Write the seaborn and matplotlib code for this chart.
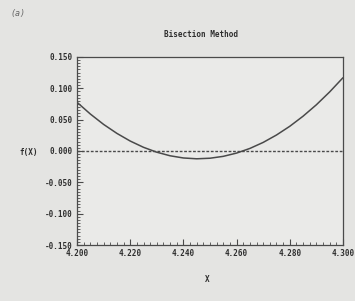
import numpy as np
import pandas as pd
import matplotlib
matplotlib.use("Agg")
import matplotlib.pyplot as plt
import seaborn as sns
from matplotlib.ticker import MultipleLocator

# values
x_vals = [4.200, 4.205, 4.210, 4.215, 4.220, 4.225, 4.230, 4.235, 4.240, 4.245, 4.250,
          4.255, 4.260, 4.265, 4.270, 4.275, 4.280, 4.285, 4.290, 4.295, 4.300]
fx_vals = [0.0776, 0.0589, 0.0423, 0.0280, 0.0158, 0.0058, -0.0020, -0.0077, -0.0112, -0.0125, -0.0116,
           -0.0086, -0.0034, 0.0040, 0.0136, 0.0254, 0.0393, 0.0554, 0.0736, 0.0941, 0.1167]
x_ticks = [4.200, 4.220, 4.240, 4.260, 4.280, 4.300]
y_ticks = [-0.150, -0.100, -0.050, 0.000, 0.050, 0.100, 0.150]

df = pd.DataFrame({'X': x_vals, 'fX': fx_vals})

sns.set_style('white')
plt.rcParams['font.family'] = ['DejaVu Sans Mono', 'DejaVu Sans']
paper = '#e4e4e2'
ink = '#4a4a4a'

fig = plt.figure(figsize=(3.55, 3.01), dpi=100, facecolor=paper)
ax = fig.add_axes([0.217, 0.186, 0.749, 0.625])
ax.set_facecolor('#eaeae8')

sns.lineplot(data=df, x='X', y='fX', ax=ax, color=ink, linewidth=1.1)
ax.axhline(0, color=ink, linestyle=(0, (2, 1.2)), linewidth=1.0)

ax.set_xlim(4.2, 4.3)
ax.set_ylim(-0.15, 0.15)
ax.set_xticks(x_ticks)
ax.set_xticklabels([f'{t:.3f}' for t in x_ticks])
ax.set_yticks(y_ticks)
ax.set_yticklabels([f'{t:.3f}' for t in y_ticks])
ax.xaxis.set_minor_locator(MultipleLocator(0.0025))
ax.yaxis.set_minor_locator(MultipleLocator(0.005))
ax.tick_params(which='major', direction='in', length=4, width=0.8, color=ink,
               labelsize=5.5, labelcolor='#2e2e2e', pad=3)
ax.tick_params(which='minor', direction='in', length=2, width=0.6, color=ink)
ax.tick_params(axis='x', which='both', top=False, bottom=True)
ax.tick_params(axis='y', which='both', left=True, right=False)
for lbl in ax.get_xticklabels() + ax.get_yticklabels():
    lbl.set_fontweight('bold')
for s in ax.spines.values():
    s.set_color(ink)
    s.set_linewidth(0.9)

ax.set_xlabel('')
ax.set_ylabel('')
fig.text(0.583, 0.07, 'X', fontsize=5.5, fontweight='bold', color='#2e2e2e', ha='center', va='center')
fig.text(0.08, 0.492, 'f(X)', fontsize=5.5, fontweight='bold', color='#2e2e2e', ha='center', va='center')
fig.text(0.565, 0.884, 'Bisection Method', fontsize=5.5, fontweight='bold', color='#2e2e2e',
         ha='center', va='center')
fig.text(0.03, 0.955, '(a)', fontsize=6, fontstyle='italic', color='#666666', ha='left', va='center')

fig.savefig('out.png', dpi=100, facecolor=paper)
